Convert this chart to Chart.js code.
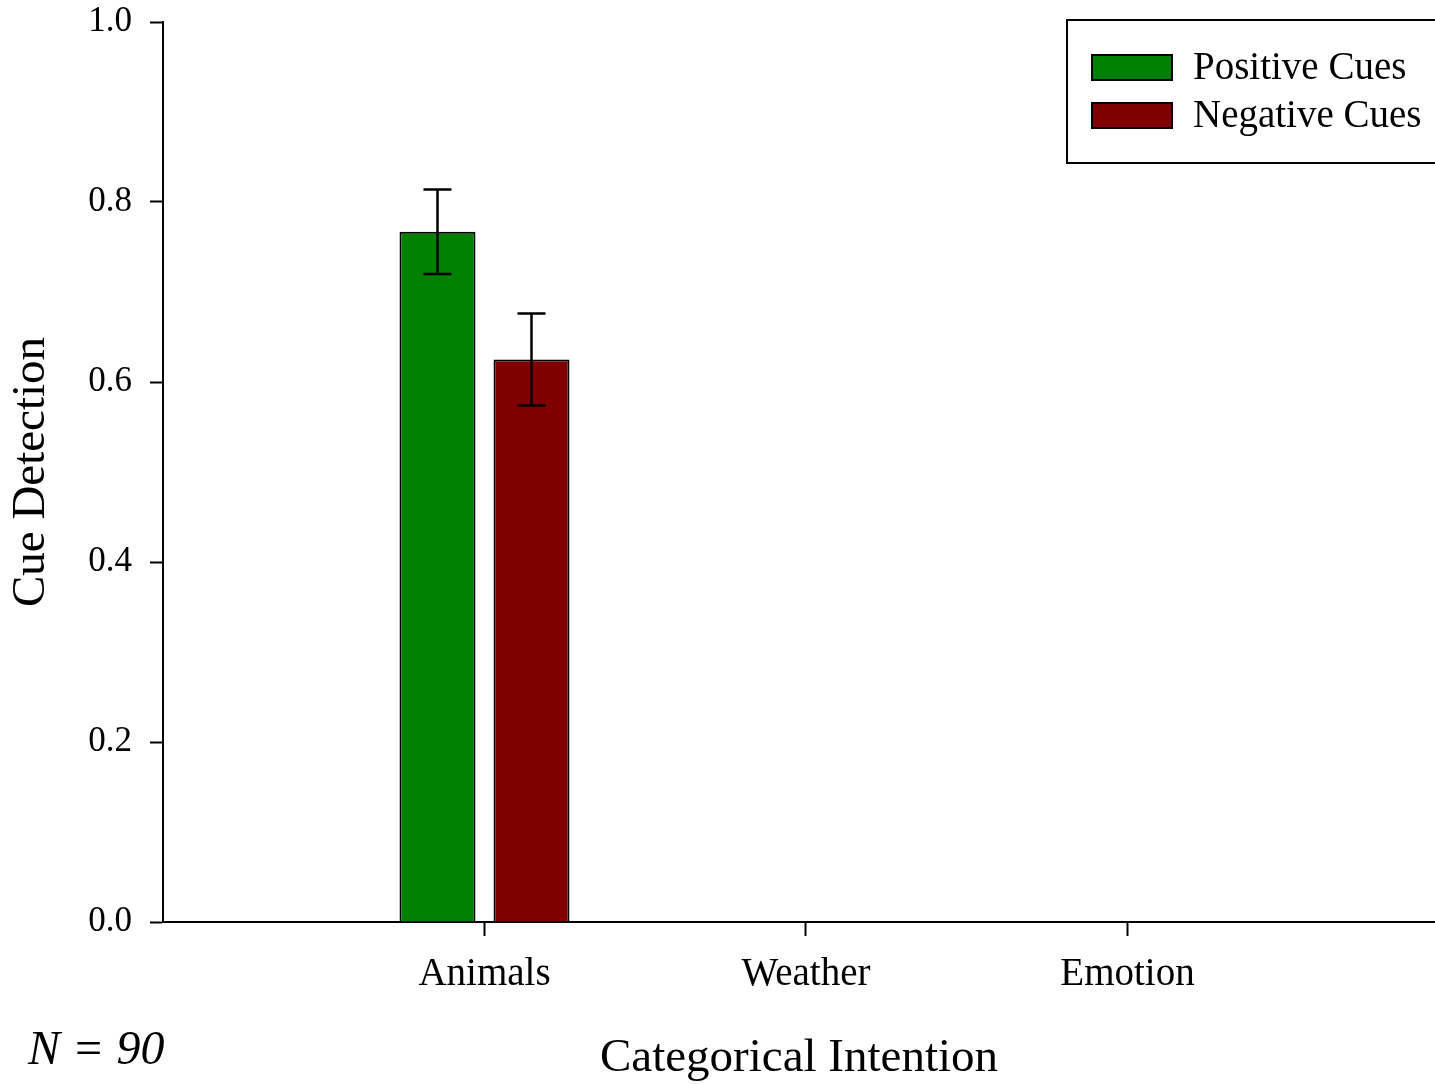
<!DOCTYPE html>
<html>
<head>
<meta charset="utf-8">
<script src="https://cdn.jsdelivr.net/npm/chart.js@4"></script>
<style>
body { margin: 0; background: #fff; }
</style>
</head>
<body>
<canvas id="cueChart" width="1435" height="1084"></canvas>
<script>
var categories = ['Animals', 'Weather', 'Emotion'];
var seriesLabels = ['Positive Cues', 'Negative Cues'];
var positiveCues = [0.767, 0, 0];
var negativeCues = [0.625, 0, 0];
var positiveErr = [0.047, null, null];
var negativeErr = [0.051, null, null];
var yTicks = [0, 0.2, 0.4, 0.6, 0.8, 1.0];
var sampleNote = 'N = 90';

var serif = "'Liberation Serif', 'DejaVu Serif', serif";

function toPoints(values) {
    return values.map(function (v, i) { return { x: i + 1, y: v }; });
}

// error bars drawn on top of each bar
var errorBars = {
    id: 'errorBars',
    afterDatasetsDraw: function (chart) {
        var ctx = chart.ctx;
        var yScale = chart.scales.y;
        chart.data.datasets.forEach(function (ds, di) {
            var meta = chart.getDatasetMeta(di);
            ds.errors.forEach(function (err, i) {
                if (err === null) return;
                var x = meta.data[i].x;
                var value = ds.data[i].y;
                var top = yScale.getPixelForValue(value + err);
                var bottom = yScale.getPixelForValue(value - err);
                ctx.save();
                ctx.strokeStyle = '#000';
                ctx.lineWidth = 2.5;
                ctx.beginPath();
                ctx.moveTo(x, top);
                ctx.lineTo(x, bottom);
                ctx.moveTo(x - 14, top);
                ctx.lineTo(x + 14, top);
                ctx.moveTo(x - 14, bottom);
                ctx.lineTo(x + 14, bottom);
                ctx.stroke();
                ctx.restore();
            });
        });
    }
};

// boxed legend in the top right corner and the sample size note
var boxLegend = {
    id: 'boxLegend',
    afterDraw: function (chart) {
        var ctx = chart.ctx;
        ctx.save();
        ctx.strokeStyle = '#000';
        ctx.lineWidth = 2;
        ctx.strokeRect(1067, 20, 400, 143);
        ctx.font = '39px ' + serif;
        ctx.textBaseline = 'middle';
        ctx.textAlign = 'left';
        chart.data.datasets.forEach(function (ds, i) {
            var y = 55 + i * 48;
            ctx.fillStyle = ds.backgroundColor;
            ctx.fillRect(1092, y, 80, 25);
            ctx.strokeRect(1092, y, 80, 25);
            ctx.fillStyle = '#000';
            ctx.fillText(ds.label, 1193, y + 14);
        });
        ctx.font = 'italic 48px ' + serif;
        ctx.textBaseline = 'alphabetic';
        ctx.fillText(sampleNote, 28, 1064);
        ctx.restore();
    }
};

new Chart(document.getElementById('cueChart'), {
    type: 'bar',
    data: {
        datasets: [{
            label: seriesLabels[0],
            data: toPoints(positiveCues),
            errors: positiveErr,
            backgroundColor: '#008000',
            borderColor: '#000',
            borderWidth: 2
        }, {
            label: seriesLabels[1],
            data: toPoints(negativeCues),
            errors: negativeErr,
            backgroundColor: '#800000',
            borderColor: '#000',
            borderWidth: 2
        }]
    },
    options: {
        responsive: false,
        animation: false,
        categoryPercentage: 188 / 321.5,
        barPercentage: 76 / 94,
        layout: { padding: { top: 22, right: 0, left: 0, bottom: 0 } },
        plugins: {
            legend: { display: false },
            tooltip: { enabled: false }
        },
        scales: {
            x: {
                type: 'linear',
                offset: false,
                min: 0,
                max: 3.9565,
                afterBuildTicks: function (axis) {
                    axis.ticks = categories.map(function (c, i) { return { value: i + 1 }; });
                },
                afterFit: function (axis) { axis.height = 162; },
                ticks: {
                    callback: function (v) { return categories[v - 1]; },
                    font: { family: serif, size: 39 },
                    color: '#000',
                    padding: 15
                },
                grid: { offset: false, drawOnChartArea: false, drawTicks: true, tickLength: 14, tickWidth: 2, tickColor: '#000' },
                border: { display: true, color: '#000', width: 2 },
                title: {
                    display: true,
                    text: 'Categorical Intention',
                    font: { family: serif, size: 47 },
                    color: '#000',
                    padding: { top: 0, bottom: -3 }
                }
            },
            y: {
                min: 0,
                max: 1,
                afterBuildTicks: function (axis) {
                    axis.ticks = yTicks.map(function (v) { return { value: v }; });
                },
                afterFit: function (axis) {
                    axis.width = 163;
                    axis.paddingTop = 0;
                    axis.paddingBottom = 0;
                },
                ticks: {
                    callback: function (v) { return v.toFixed(1); },
                    font: { family: serif, size: 35 },
                    color: '#000',
                    padding: 18
                },
                grid: { drawOnChartArea: false, drawTicks: true, tickLength: 13, tickWidth: 2, tickColor: '#000' },
                border: { display: true, color: '#000', width: 2 },
                title: {
                    display: true,
                    text: 'Cue Detection',
                    font: { family: serif, size: 47 },
                    color: '#000',
                    padding: { top: 3, bottom: 0 }
                }
            }
        }
    },
    plugins: [errorBars, boxLegend]
});
</script>
</body>
</html>
